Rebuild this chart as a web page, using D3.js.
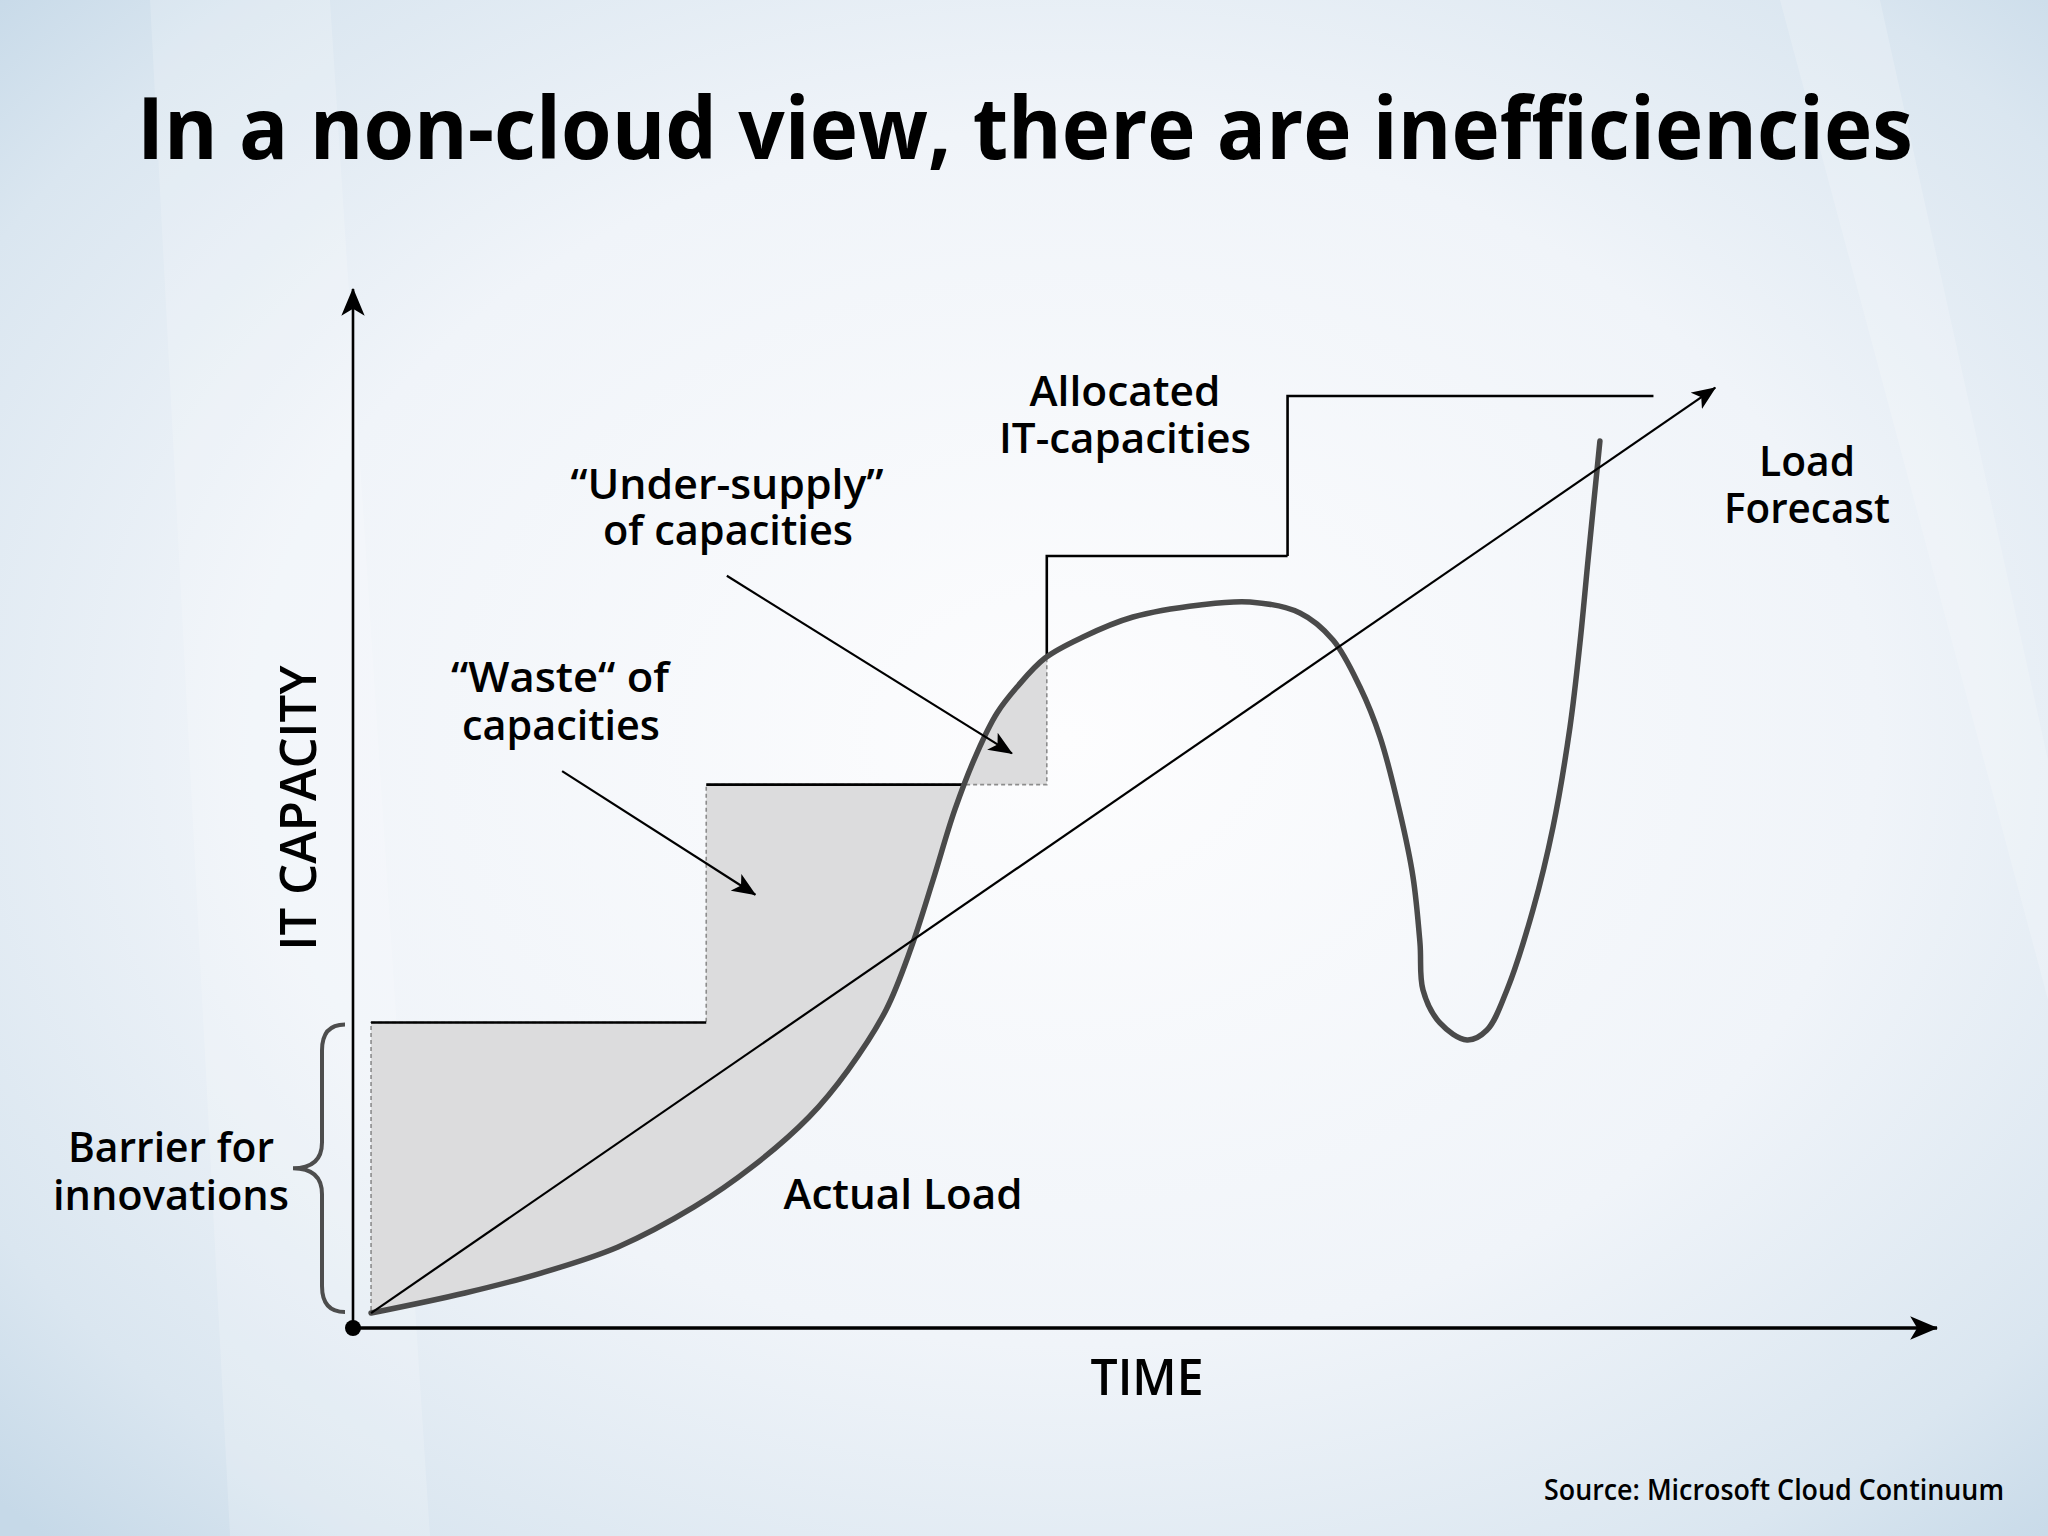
<!DOCTYPE html>
<html>
<head>
<meta charset="utf-8">
<script src="https://cdn.jsdelivr.net/npm/d3@7"></script>
<style>
  html, body { margin: 0; padding: 0; background: #eef3f9; }
  svg { display: block; }
  text { font-family: 'Open Sans', 'Noto Sans', sans-serif; fill: #000; }
</style>
</head>
<body>
<div id="chart"></div>
<script>
// allocated IT capacity: time where each step starts and its level
const stepTime = [1.14, 22.3, 43.8, 59.0];
const stepLevel = [29.4, 52.3, 74.3, 89.7];
const stepEnd = 82.1;
const fillUntil = 2; // waste / under-supply shading covers the first two steps

// actual load
const loadTime = [1.14, 7.07, 11.87, 16.73, 21.53, 25.19, 28.79, 31.25, 33.65, 35.23, 36.62,
  37.99, 39.39, 40.66, 41.92, 43.69, 46.09, 49.24, 53.47, 56.63, 59.78, 61.87,
  63.57, 64.84, 66.1, 66.92, 67.36, 67.55, 68.62, 70.33, 71.59, 72.85, 74.49, 75.76,
  76.83, 77.46, 77.97, 78.72];
const loadLevel = [1.44, 3.37, 5.29, 7.8, 11.65, 15.5, 20.31, 24.83, 30.61, 36.57, 43.12,
  49.86, 55.34, 59.19, 61.69, 64.48, 66.51, 68.43, 69.59, 69.88, 68.82, 66.22,
  61.69, 56.88, 49.57, 43.41, 37.06, 32.53, 29.36, 27.72, 28.68, 32.53, 40.23, 48.22,
  57.84, 65.93, 73.92, 85.37];

// linear load forecast
const forecastTime = [1.14, 86.0];
const forecastLevel = [1.44, 90.5];

// annotation arrows, from/to in chart units
const wasteArrow = [[13.2, 53.6], [25.4, 41.7]];
const underArrow = [[23.6, 72.4], [41.6, 55.3]];

const width = 2048;
const height = 1536;

const svg = d3.select('#chart')
  .append('svg')
  .attr('width', width)
  .attr('height', height);

const defs = svg.append('defs');

// background
const bg = defs.append('radialGradient')
  .attr('id', 'bg')
  .attr('cx', '52%').attr('cy', '48%').attr('r', '72%');
bg.append('stop').attr('offset', '0%').attr('stop-color', '#fdfdfe');
bg.append('stop').attr('offset', '55%').attr('stop-color', '#f0f4f9');
bg.append('stop').attr('offset', '85%').attr('stop-color', '#dae6f0');
bg.append('stop').attr('offset', '100%').attr('stop-color', '#c6d9e8');

svg.append('rect')
  .attr('width', width)
  .attr('height', height)
  .attr('fill', 'url(#bg)');

svg.append('path')
  .attr('d', 'M150,0L330,0L430,1536L230,1536Z')
  .attr('fill', '#ffffff')
  .attr('opacity', 0.18);
svg.append('path')
  .attr('d', 'M1780,0L1880,0L2048,760L2048,1000Z')
  .attr('fill', '#ffffff')
  .attr('opacity', 0.2);

function marker(id, w, h) {
  defs.append('marker')
    .attr('id', id)
    .attr('viewBox', '0 -10 24 20')
    .attr('refX', 23)
    .attr('refY', 0)
    .attr('markerWidth', w)
    .attr('markerHeight', h)
    .attr('markerUnits', 'userSpaceOnUse')
    .attr('orient', 'auto')
    .append('path')
    .attr('d', 'M0,-10L24,0L0,10L6,0Z')
    .attr('fill', '#000');
}
marker('arrow-axis', 28, 26);
marker('arrow-small', 24, 20);

const x = d3.scaleLinear().domain([0, 100]).range([353, 1937]);
const y = d3.scaleLinear().domain([0, 100]).range([1328, 289]);

const fillLayer = svg.append('g');
const stepLayer = svg.append('g');
const lineLayer = svg.append('g');
const textLayer = svg.append('g');

// actual load curve
const loadData = loadTime.map((t, i) => [t, loadLevel[i]]);
const loadLine = d3.line()
  .x(d => x(d[0]))
  .y(d => y(d[1]))
  .curve(d3.curveCatmullRom.alpha(0.5));

const loadPath = lineLayer.append('path')
  .datum(loadData)
  .attr('d', loadLine)
  .attr('fill', 'none')
  .attr('stroke', '#4a4a4a')
  .attr('stroke-width', 5.5)
  .attr('stroke-linecap', 'round');

// sample the drawn curve so the shading can follow it
const node = loadPath.node();
const total = node.getTotalLength();
const samples = d3.range(0, total, 2).map(l => {
  const p = node.getPointAtLength(l);
  return [p.x, p.y];
});
const lastP = node.getPointAtLength(total);
samples.push([lastP.x, lastP.y]);

function loadAtPx(px) {
  if (px <= samples[0][0]) return samples[0][1];
  for (let i = 0; i < samples.length - 1; i++) {
    const a = samples[i], b = samples[i + 1];
    if (px >= a[0] && px <= b[0]) {
      return a[1] + (b[1] - a[1]) * (px - a[0]) / ((b[0] - a[0]) || 1);
    }
  }
  return samples[samples.length - 1][1];
}

// shaded area between the allocated steps and the load
const rows = [];
for (let i = 0; i < fillUntil; i++) {
  const x0 = x(stepTime[i]);
  const x1 = x(stepTime[i + 1]);
  for (let px = x0; px < x1; px += 2) {
    rows.push([px, loadAtPx(px), y(stepLevel[i])]);
  }
  rows.push([x1, loadAtPx(x1), y(stepLevel[i])]);
}

fillLayer.append('path')
  .datum(rows)
  .attr('d', d3.area().x(d => d[0]).y0(d => d[1]).y1(d => d[2]))
  .attr('fill', '#dcdcdd')
  .attr('stroke', '#8c8c8c')
  .attr('stroke-width', 1.6)
  .attr('stroke-dasharray', '4,3');

// clip: only the part of the step line above the load is drawn solid
const firstS = samples[0];
const lastS = samples[samples.length - 1];
const clipPts = [[0, 0], [0, height], [firstS[0], height]]
  .concat(samples)
  .concat([[lastS[0], height], [width, height], [width, 0]]);

defs.append('clipPath')
  .attr('id', 'above-load')
  .append('path')
  .attr('d', 'M' + clipPts.map(p => p.join(',')).join('L') + 'Z');

const stepSegments = stepTime.map((t, i) => {
  const next = i < stepTime.length - 1 ? stepTime[i + 1] : stepEnd;
  const seg = [[t, stepLevel[i]], [next, stepLevel[i]]];
  if (i >= fillUntil) seg.unshift([t, stepLevel[i - 1]]);
  return seg;
});

const plain = d3.line().x(d => x(d[0])).y(d => y(d[1]));

stepLayer.attr('clip-path', 'url(#above-load)')
  .selectAll('path')
  .data(stepSegments)
  .join('path')
  .attr('d', plain)
  .attr('fill', 'none')
  .attr('stroke', '#000')
  .attr('stroke-width', 2.6);

// forecast
lineLayer.append('path')
  .datum(forecastTime.map((t, i) => [t, forecastLevel[i]]))
  .attr('d', plain)
  .attr('fill', 'none')
  .attr('stroke', '#000')
  .attr('stroke-width', 2.2)
  .attr('marker-end', 'url(#arrow-small)');

// annotation arrows
lineLayer.selectAll('.note')
  .data([wasteArrow, underArrow])
  .join('path')
  .attr('class', 'note')
  .attr('d', plain)
  .attr('stroke', '#000')
  .attr('stroke-width', 2.2)
  .attr('marker-end', 'url(#arrow-small)');

// axes
lineLayer.append('line')
  .attr('x1', x(0)).attr('y1', y(0))
  .attr('x2', x(0)).attr('y2', y(100))
  .attr('stroke', '#000')
  .attr('stroke-width', 2.6)
  .attr('marker-end', 'url(#arrow-axis)');

lineLayer.append('line')
  .attr('x1', x(0)).attr('y1', y(0))
  .attr('x2', x(100)).attr('y2', y(0))
  .attr('stroke', '#000')
  .attr('stroke-width', 3.5)
  .attr('marker-end', 'url(#arrow-axis)');

lineLayer.append('circle')
  .attr('cx', x(0))
  .attr('cy', y(0))
  .attr('r', 8)
  .attr('fill', '#000');

// brace for the barrier
const braceTop = y(stepLevel[0]) + 2;
const braceBottom = y(loadLevel[0]) - 1;
const braceMid = (braceTop + braceBottom) / 2;
const ends = x(0) - 8, stem = x(0) - 31, tip = x(0) - 60;
lineLayer.append('path')
  .attr('d', `M${ends},${braceTop}Q${stem},${braceTop} ${stem},${braceTop + 26}L${stem},${braceMid - 26}` +
    `Q${stem},${braceMid} ${tip},${braceMid}Q${stem},${braceMid} ${stem},${braceMid + 26}` +
    `L${stem},${braceBottom - 26}Q${stem},${braceBottom} ${ends},${braceBottom}`)
  .attr('fill', 'none')
  .attr('stroke', '#4d4d4d')
  .attr('stroke-width', 4);

// texts
const labels = [
  { t: 'In a non-cloud view, there are inefficiencies', x: 1025, y: 159, w: 1776, size: 86, weight: 700 },
  { t: 'Allocated', x: 1125, y: 406, w: 191, size: 41, weight: 600 },
  { t: 'IT-capacities', x: 1125, y: 453, w: 252, size: 41, weight: 600 },
  { t: 'Load', x: 1807, y: 476, w: 96, size: 41, weight: 600 },
  { t: 'Forecast', x: 1807, y: 523, w: 166, size: 41, weight: 600 },
  { t: '“Under-supply”', x: 727, y: 499, w: 313, size: 41, weight: 600 },
  { t: 'of capacities', x: 728, y: 545, w: 250, size: 41, weight: 600 },
  { t: '“Waste“ of', x: 560, y: 692, w: 218, size: 41, weight: 600 },
  { t: 'capacities', x: 561, y: 740, w: 198, size: 41, weight: 600 },
  { t: 'Barrier for', x: 171, y: 1162, w: 206, size: 41, weight: 600 },
  { t: 'innovations', x: 171, y: 1210, w: 236, size: 41, weight: 600 },
  { t: 'Actual Load', x: 903, y: 1209, w: 239, size: 41, weight: 600 },
  { t: 'TIME', x: 1147, y: 1395, w: 113, size: 50, weight: 600 }
];

textLayer.selectAll('.label')
  .data(labels)
  .join('text')
  .attr('class', 'label')
  .attr('x', d => d.x)
  .attr('y', d => d.y)
  .attr('text-anchor', 'middle')
  .attr('font-size', d => d.size)
  .attr('font-weight', d => d.weight)
  .attr('textLength', d => d.w)
  .attr('lengthAdjust', 'spacingAndGlyphs')
  .text(d => d.t);

textLayer.append('text')
  .attr('transform', 'translate(316,808) rotate(-90)')
  .attr('text-anchor', 'middle')
  .attr('font-size', 50)
  .attr('font-weight', 600)
  .attr('textLength', 285)
  .attr('lengthAdjust', 'spacingAndGlyphs')
  .text('IT CAPACITY');

textLayer.append('text')
  .attr('x', 2004)
  .attr('y', 1500)
  .attr('text-anchor', 'end')
  .attr('font-size', 28)
  .attr('font-weight', 600)
  .attr('textLength', 460)
  .attr('lengthAdjust', 'spacingAndGlyphs')
  .text('Source: Microsoft Cloud Continuum');
</script>
</body>
</html>
